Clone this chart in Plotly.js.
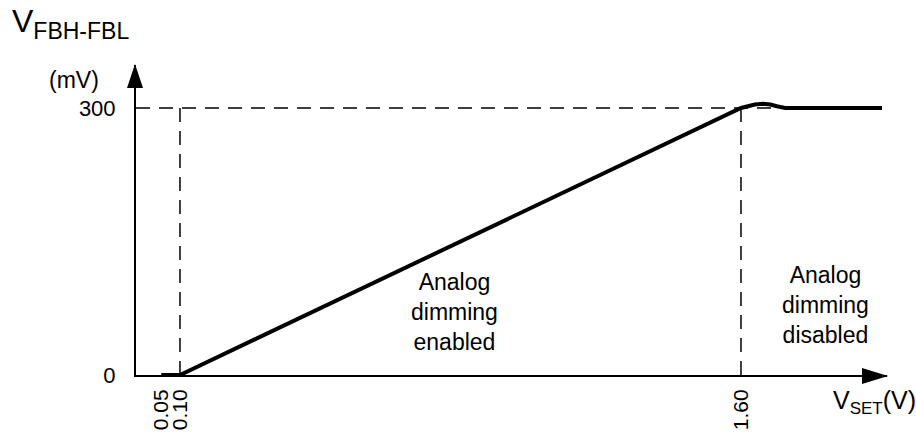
<!DOCTYPE html>
<html>
<head>
<meta charset="utf-8">
<script src="https://cdn.plot.ly/plotly-3.0.1.min.js"></script>
<style>
  html, body { margin: 0; padding: 0; background: #fff; }
  #chart { width: 916px; height: 436px; }
</style>
</head>
<body>
<div id="chart"></div>
<script>
// Transfer curve: V(FBH-FBL) in mV versus V(SET) in V
const vSet = [0.05, 0.10, 1.60, 1.619, 1.637, 1.659, 1.678, 1.696, 1.718, 1.977];
const vFb  = [0,    0,    300,  302.2, 303.9, 304.7, 303.9, 301.9, 300,   300];

// Thresholds marked on the axes
const xTickVals = [0.05, 0.10, 1.60];
const xTickText = ['0.05', '0.10', '1.60'];
const yTickVals = [0, 300];
const yTickText = ['0', '300'];

const kneeLow = 0.10;    // analog dimming starts
const kneeHigh = 1.60;   // analog dimming saturates
const vMax = 300;        // clamp level, mV
const flatStart = 1.718; // where the overshoot settles

const X_RANGE = [-0.0176, 1.9904];
const Y_RANGE = [0, 348.3];

const FONT = 'Liberation Sans, Arial, sans-serif';
const dash = { color: '#000', width: 1.5, dash: '14px,9px' };

const trace = {
  x: vSet,
  y: vFb,
  type: 'scatter',
  mode: 'lines',
  line: { color: '#000', width: 4 },
  hoverinfo: 'skip'
};

const layout = {
  width: 916,
  height: 436,
  margin: { l: 136, r: 29, t: 65, b: 61, pad: 0 },
  paper_bgcolor: '#fff',
  plot_bgcolor: '#fff',
  showlegend: false,
  font: { family: FONT, color: '#000' },
  xaxis: {
    range: X_RANGE,
    showgrid: false,
    zeroline: false,
    showline: true,
    linecolor: '#000',
    linewidth: 2,
    ticks: '',
    tickmode: 'array',
    tickvals: xTickVals,
    ticktext: xTickText,
    tickangle: -90,
    ticklabelstandoff: 4,
    tickfont: { family: FONT, size: 21, color: '#000' },
    fixedrange: true
  },
  yaxis: {
    range: Y_RANGE,
    showgrid: false,
    zeroline: false,
    showline: true,
    linecolor: '#000',
    linewidth: 2,
    ticks: '',
    tickmode: 'array',
    tickvals: yTickVals,
    ticktext: yTickText,
    ticklabelstandoff: 14,
    tickfont: { family: FONT, size: 22, color: '#000' },
    fixedrange: true
  },
  shapes: [
    // guide lines at the two knees and at the clamp level
    { type: 'line', xref: 'x', yref: 'y', x0: X_RANGE[0], x1: flatStart, y0: vMax, y1: vMax, line: dash, layer: 'below' },
    { type: 'line', xref: 'x', yref: 'y', x0: kneeLow, x1: kneeLow, y0: vMax, y1: 0, line: dash, layer: 'below' },
    { type: 'line', xref: 'x', yref: 'y', x0: kneeHigh, x1: kneeHigh, y0: vMax, y1: 0, line: dash, layer: 'below' },
    // arrowheads at the ends of both axes
    { type: 'path', xref: 'paper', yref: 'paper', xsizemode: 'pixel', ysizemode: 'pixel',
      xanchor: 1, yanchor: 0, path: 'M1,-1 L-25,7 L-25,-9 Z', fillcolor: '#000', line: { width: 0 } },
    { type: 'path', xref: 'paper', yref: 'paper', xsizemode: 'pixel', ysizemode: 'pixel',
      xanchor: 0, yanchor: 1, path: 'M-1,1 L-9,-23 L7,-23 Z', fillcolor: '#000', line: { width: 0 } }
  ],
  annotations: [
    { xref: 'paper', yref: 'paper', x: -0.1678, y: 1.206, xanchor: 'left', yanchor: 'top',
      text: 'V<sub><span style="font-size:23px">FBH-FBL</span></sub>', showarrow: false,
      font: { family: FONT, size: 32, color: '#000' } },
    { xref: 'paper', yref: 'paper', x: -0.0826, y: 0.9516, xanchor: 'center', yanchor: 'middle',
      text: '(mV)', showarrow: false, font: { family: FONT, size: 23, color: '#000' } },
    { xref: 'paper', yref: 'paper', x: 0.926, y: -0.087, xanchor: 'left', yanchor: 'middle',
      text: 'V<sub><span style="font-size:17px">SET</span></sub>(V)', showarrow: false,
      font: { family: FONT, size: 25, color: '#000' } },
    { xref: 'x', yref: 'y', x: 0.835, y: 70.8, xanchor: 'center', yanchor: 'middle',
      text: 'Analog<br>dimming<br>enabled', showarrow: false, align: 'center',
      font: { family: FONT, size: 23, color: '#000' } },
    { xref: 'x', yref: 'y', x: 1.825, y: 78.7, xanchor: 'center', yanchor: 'middle',
      text: 'Analog<br>dimming<br>disabled', showarrow: false, align: 'center',
      font: { family: FONT, size: 23, color: '#000' } }
  ]
};

Plotly.newPlot('chart', [trace], layout, { displayModeBar: false, staticPlot: true });
</script>
</body>
</html>
